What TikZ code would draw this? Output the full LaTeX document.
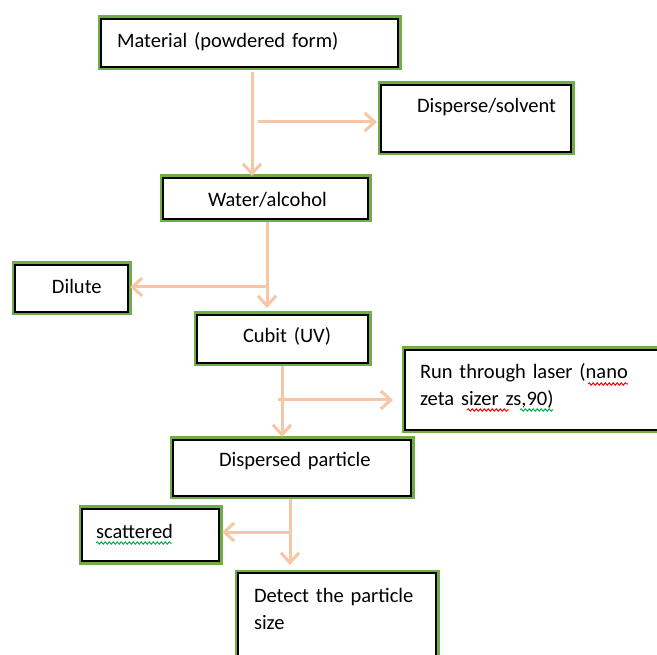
\documentclass[tikz,border=0pt]{standalone}
\usepackage{fontspec}
\setmainfont{Carlito}
\usepackage{tikz}
\definecolor{boxgreen}{HTML}{70AD47}
\definecolor{flowpeach}{HTML}{F7C6A5}
\definecolor{spellred}{HTML}{FF0000}
\definecolor{spellgreen}{HTML}{00B050}
\usetikzlibrary{arrows.meta, decorations.pathmorphing}
\hyphenpenalty=10000
\tikzstyle{box}=[draw=black, line width=2pt, fill=white, preaction={draw=boxgreen, line width=7pt}, anchor=north west, inner ysep=0pt, outer sep=0pt, align=left, font=\fontsize{20.5}{27}\selectfont]
\tikzstyle{flow}=[draw=flowpeach, line width=3pt, -{Straight Barb[length=10pt, width=18pt]}]
\tikzstyle{squiggle}=[line width=1pt, decorate, decoration={snake, amplitude=1.2pt, segment length=4pt}]

\begin{document}
\begin{tikzpicture}[x=1pt, y=-1pt]
			\useasboundingbox (0,0) rectangle (657,655);
			\node[box, inner xsep=16pt, text width=265pt, text height=29pt, text depth=19pt] (material) at (101,19) {Material (powdered form)};
			\node[box, inner xsep=36pt, text width=118pt, text height=28pt, text depth=39pt] (disperse) at (381,85) {Disperse/solvent};
			\node[box, inner xsep=45pt, text width=115pt, text height=29pt, text depth=12pt] (water) at (163,178) {Water/alcohol};
			\node[box, inner xsep=37pt, text width=39pt, text height=29pt, text depth=18pt] (dilute) at (15,265) {Dilute};
			\node[box, inner xsep=46pt, text width=79pt, text height=28pt, text depth=20pt] (cubit) at (197,315) {Cubit~(UV)};
			\node[box, inner xsep=15pt, text width=230pt, text height=29pt, text depth=51pt] (laser) at (405,350) {Run through laser (nano\\zeta sizer zs,90)};
			\node[box, inner xsep=46pt, text width=146pt, text height=27pt, text depth=29pt] (dispersed) at (173,440) {Dispersed~particle};
			\node[box, inner xsep=14pt, text width=109pt, text height=30pt, text depth=22pt] (scattered) at (82,509) {scattered};
			\node[box, inner xsep=16pt, text width=166pt, text height=29pt, text depth=63pt] (detect) at (238,573) {Detect the particle\\size};
			% spell check marks
			\draw[squiggle, spellred] (588,384) -- (628,384);
			\draw[squiggle, spellred] (467,410) -- (509,410);
			\draw[squiggle, spellgreen] (520,410) -- (553,410);
			\draw[squiggle, spellgreen] (96,543) -- (172,543);
			\coordinate (j1) at (252,122);
			\coordinate (j2) at (267,287);
			\coordinate (j3) at (282,400);
			\coordinate (j4) at (290,532);
			\draw[flow, shorten <=5pt, shorten >=2pt] (material.south -| j1) -- (water.north -| j1);
			\draw[flow, shorten >=4pt] ([xshift=6pt]j1) -- (disperse.west |- j1);
			\draw[flow, shorten <=3pt, shorten >=7pt] (water.south -| j2) -- (cubit.north -| j2);
			\draw[flow, shorten >=2pt] (j2) -- (dilute.east |- j2);
			\draw[flow, shorten <=3pt, shorten >=3pt] (cubit.south -| j3) -- (dispersed.north -| j3);
			\draw[flow, shorten >=12pt] ([xshift=-4pt]j3) -- (laser.west |- j3);
			\draw[flow, shorten <=3pt, shorten >=8pt] (dispersed.south -| j4) -- (detect.north -| j4);
			\draw[flow, shorten >=3pt] (j4) -- (scattered.east |- j4);
		\end{tikzpicture}
\end{document}
